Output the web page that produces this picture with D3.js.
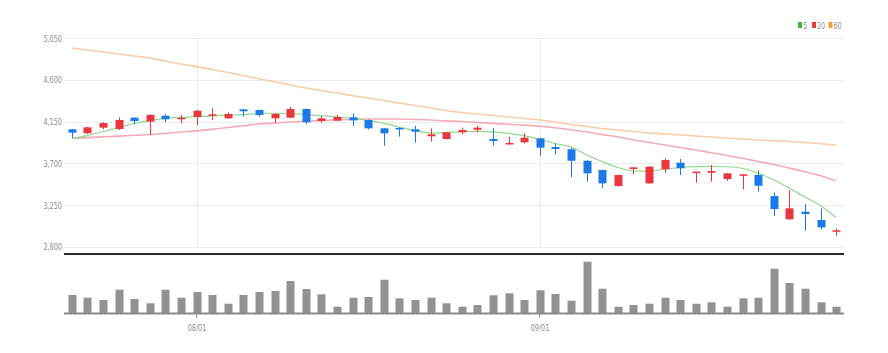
<!DOCTYPE html>
<html>
<head>
<meta charset="utf-8">
<script src="https://cdnjs.cloudflare.com/ajax/libs/d3/7.8.5/d3.min.js"></script>
<style>
  body { margin: 0; background: #fff; }
  svg text { font-family: "Liberation Sans Narrow", "DejaVu Sans Condensed", "Roboto", sans-serif; fill: #8e8e8e; }
</style>
</head>
<body>
<div id="chart"></div>
<script>
// trading days (2022)
var dates = ["07/20","07/21","07/22","07/25","07/26","07/27","07/28","07/29",
  "08/01","08/02","08/03","08/04","08/05","08/08","08/09","08/10","08/11","08/12",
  "08/16","08/17","08/18","08/19","08/22","08/23","08/24","08/25","08/26","08/29","08/30","08/31",
  "09/01","09/02","09/05","09/06","09/07","09/08","09/13","09/14","09/15","09/16",
  "09/19","09/20","09/21","09/22","09/23","09/26","09/27","09/28","09/29","09/30"];

var opens  = [4067,4024,4085,4071,4193,4150,4214,4186,4200,4214,4186,4283,4276,4186,4193,4287,4157,4161,4197,4168,
              4078,4082,4067,3992,3963,4035,4063,3963,3906,3927,3970,3876,3852,3728,3628,3455,3639,3484,3636,3707,
              3599,3599,3531,3567,3574,3347,3096,3178,3088,2962];
var highs  = [4070,4095,4143,4197,4197,4229,4233,4222,4276,4294,4251,4287,4280,4240,4312,4290,4211,4222,4240,4172,
              4082,4090,4106,4078,4040,4085,4106,4078,3988,4024,3975,3916,3869,3732,3632,3578,3660,3670,3754,3747,
              3612,3682,3596,3584,3621,3387,3412,3261,3214,2999];
var lows   = [3977,4018,4067,4060,4121,4006,4143,4132,4114,4168,4180,4204,4204,4132,4190,4125,4139,4155,4103,4067,
              3890,3988,3923,3934,3958,4013,4035,3890,3902,3916,3782,3797,3549,3502,3430,3452,3582,3480,3599,3574,
              3491,3502,3510,3420,3394,3131,3092,2973,2988,2919];
var closes = [4031,4089,4135,4168,4157,4222,4175,4192,4268,4229,4233,4262,4222,4233,4287,4143,4186,4200,4164,4078,
              4024,4067,4042,4013,4035,4060,4085,3942,3920,3977,3869,3855,3728,3592,3484,3574,3657,3664,3736,3646,
              3610,3617,3592,3581,3458,3207,3214,3153,3009,2977];
// volume (thousand shares)
var volumes = [220,187,160,283,172,120,283,187,256,220,115,220,256,268,388,292,228,79,187,196,
               403,180,160,187,120,79,100,216,240,160,276,232,151,619,295,79,100,115,187,160,
               115,132,79,180,187,535,364,295,132,79];
// moving averages
var ma5  = [3970,4000,4044,4087,4130,4162,4186,4195,4203,4213,4220,4227,4238,4241,4238,4227,4216,4200,4186,4162,
            4132,4092,4054,4027,4033,4044,4046,4040,4022,4000,3957,3914,3876,3790,3720,3655,3619,3614,3639,3655,
            3664,3666,3663,3644,3596,3520,3434,3336,3239,3115];
var ma20 = [3970,3978,3986,3994,4003,4011,4023,4038,4051,4067,4087,4105,4125,4135,4146,4155,4162,4170,4175,4179,
            4179,4179,4174,4168,4159,4152,4142,4132,4122,4112,4100,4084,4062,4038,4011,3984,3954,3925,3898,3871,
            3844,3815,3785,3754,3720,3687,3650,3609,3563,3512];
var ma60 = [4945,4924,4902,4880,4859,4837,4805,4772,4744,4713,4681,4648,4613,4580,4546,4513,4486,4459,4430,4405,
            4378,4351,4324,4297,4270,4249,4233,4216,4200,4184,4168,4146,4119,4098,4076,4060,4044,4027,4017,4006,
            3995,3984,3973,3963,3952,3944,3936,3925,3911,3898];
var priceTicks = [2800,3250,3700,4150,4600,5050];
var dateTicks = ["08/01","09/01"];
var legendNames = ["5","20","60"];

var width = 888, height = 353;
var left = 64, right = 844;
var upColor = "#e8373e", downColor = "#1b7ae6";

var svg = d3.select("#chart").append("svg")
    .attr("width", width)
    .attr("height", height);

var x = d3.scaleBand()
    .domain(dates)
    .range([left, right])
    .paddingInner(0.48)
    .paddingOuter(0.24);

var y = d3.scaleLinear()
    .domain([2800, 5050])
    .range([246.7, 38.3]);

var yv = d3.scaleLinear()
    .domain([0, d3.max(volumes)])
    .range([313.3, 261.7]);

function cx(d) { return Math.round(x(d) + x.bandwidth() / 2); }

// horizontal grid + price labels
svg.append("g").selectAll("line")
  .data(priceTicks)
  .enter().append("line")
    .attr("x1", left).attr("x2", right)
    .attr("y1", function(d) { return Math.round(y(d)) + 0.5; })
    .attr("y2", function(d) { return Math.round(y(d)) + 0.5; })
    .attr("stroke", "#ececec");

svg.append("g").selectAll("text")
  .data(priceTicks)
  .enter().append("text")
    .attr("transform", function(d) { return "translate(62," + (y(d) + 3.5) + ") scale(0.76,1)"; })
    .attr("text-anchor", "end")
    .style("font-size", "9.5px")
    .text(function(d) { return d3.format(",")(d); });

// vertical grid at month starts
svg.append("g").selectAll("line")
  .data(dateTicks)
  .enter().append("line")
    .attr("x1", function(d) { return cx(d) + 0.5; })
    .attr("x2", function(d) { return cx(d) + 0.5; })
    .attr("y1", 38).attr("y2", 247)
    .attr("stroke", "#ececec");

// moving average lines
var maSeries = [
  {values: ma60, color: "#f9cda6", w: 1.6},
  {values: ma20, color: "#f5aab4", w: 1.6},
  {values: ma5,  color: "#8fdb8a", w: 1.2}
];
var line = d3.line()
    .curve(d3.curveMonotoneX)
    .x(function(d, i) { return cx(dates[i]); })
    .y(function(d) { return y(d); });

svg.append("g").selectAll("path")
  .data(maSeries)
  .enter().append("path")
    .attr("fill", "none")
    .attr("stroke", function(d) { return d.color; })
    .attr("stroke-width", function(d) { return d.w; })
    .attr("d", function(d) { return line(d.values); });

// candles
var candles = svg.append("g").selectAll("g")
  .data(dates)
  .enter().append("g");

candles.append("line")
    .attr("x1", function(d) { return cx(d) + 0.5; })
    .attr("x2", function(d) { return cx(d) + 0.5; })
    .attr("y1", function(d, i) { return y(highs[i]); })
    .attr("y2", function(d, i) { return y(lows[i]); })
    .attr("stroke", function(d, i) { return closes[i] >= opens[i] ? upColor : downColor; })
    .attr("stroke-width", 1);

candles.append("rect")
    .attr("x", function(d) { return cx(d) - 3.5; })
    .attr("width", 8)
    .attr("y", function(d, i) { return y(Math.max(opens[i], closes[i])); })
    .attr("height", function(d, i) { return Math.max(1.5, Math.abs(y(opens[i]) - y(closes[i]))); })
    .attr("fill", function(d, i) { return closes[i] >= opens[i] ? upColor : downColor; });

// pane separator
svg.append("line")
    .attr("x1", left).attr("x2", right)
    .attr("y1", 254).attr("y2", 254)
    .attr("stroke", "#2b2b2b")
    .attr("stroke-width", 2);

// volume bars
svg.append("g").selectAll("rect")
  .data(volumes)
  .enter().append("rect")
    .attr("x", function(d, i) { return cx(dates[i]) - 3.5; })
    .attr("width", 8)
    .attr("y", function(d) { return yv(d); })
    .attr("height", function(d) { return yv(0) - yv(d); })
    .attr("fill", "#929292");

// volume x axis
var xAxis = svg.append("g")
    .attr("transform", "translate(0,313.5)")
    .call(d3.axisBottom(x).tickValues(dateTicks).tickSize(4).tickPadding(7));
xAxis.select(".domain").attr("stroke", "#8a8a8a").attr("stroke-width", 2)
    .attr("d", "M" + left + ",0H" + right);
xAxis.selectAll(".tick line").attr("stroke", "#8a8a8a");
xAxis.selectAll(".tick text")
    .attr("transform", "scale(0.76,1)")
    .attr("x", function(d) { return (cx(d) - x(d) - x.bandwidth() / 2) / 0.76; })
    .style("font-size", "9.5px")
    .style("font-family", "\"Liberation Sans Narrow\", \"DejaVu Sans Condensed\", sans-serif")
    .attr("fill", "#8e8e8e");

// legend
var legendColors = ["#3cb83c", "#e8373e", "#f0a035"];
var legendX = [798, 812, 828.5];
var legend = svg.append("g").selectAll("g")
  .data(legendNames)
  .enter().append("g")
    .attr("transform", function(d, i) { return "translate(" + legendX[i] + ",22)"; });
legend.append("rect")
    .attr("width", 4).attr("height", 6)
    .attr("fill", function(d, i) { return legendColors[i]; });
legend.append("text")
    .attr("transform", "translate(5,6.5) scale(0.76,1)")
    .style("font-size", "9.5px")
    .text(function(d) { return d; });
</script>
</body>
</html>
